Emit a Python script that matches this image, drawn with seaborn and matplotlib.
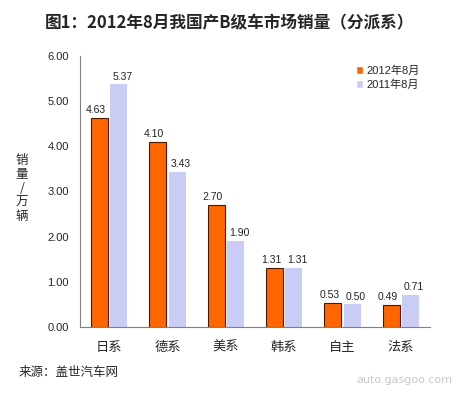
import pandas as pd
import matplotlib.pyplot as plt
import seaborn as sns

# chart data
categories = ["日系", "德系", "美系", "韩系", "自主", "法系"]
sales_2012 = [4.63, 4.10, 2.70, 1.31, 0.53, 0.49]
sales_2011 = [5.37, 3.43, 1.90, 1.31, 0.50, 0.71]
series_names = ["2012年8月", "2011年8月"]
y_ticks = [0, 1, 2, 3, 4, 5, 6]

sns.set_style("white")
plt.rcParams['font.family'] = ['Noto Sans CJK SC', 'DejaVu Sans']

df = pd.DataFrame({
    "category": categories * 2,
    "sales": sales_2012 + sales_2011,
    "series": [series_names[0]] * len(categories) + [series_names[1]] * len(categories),
})

fig = plt.figure(figsize=(4.59, 3.93), dpi=100)
ax = fig.add_axes([0.174, 0.168, 0.763, 0.69])

palette = {series_names[0]: "#FF6600", series_names[1]: "#C9CCF4"}
sns.barplot(data=df, x="category", y="sales", hue="series", palette=palette,
            width=0.62, saturation=1, ax=ax)

# small gap between the paired bars, edge only on orange
gap = 0.02
for bar in ax.containers[0]:
    bar.set_width(bar.get_width() - gap)
    bar.set_edgecolor("#4a1a00")
    bar.set_linewidth(0.8)
for bar in ax.containers[1]:
    bar.set_x(bar.get_x() + gap)
    bar.set_width(bar.get_width() - gap)
    bar.set_edgecolor("none")

# value labels, nudged apart a little so paired labels don't collide
for cont, dx in zip(ax.containers, [-2.5, 2.5]):
    labels = ax.bar_label(cont, fmt="%.2f", padding=2, fontsize=7.5, color="#222222",
                          family=['Liberation Sans', 'DejaVu Sans'])
    for t in labels:
        t.xyann = (dx, 2)

ax.set_ylim(0, 6)
ax.set_yticks(y_ticks)
ax.set_yticklabels([f"{v:.2f}" for v in y_ticks], fontsize=8,
                   family=['Liberation Sans', 'DejaVu Sans'])
ax.tick_params(axis='y', direction='out', length=4, width=0.8, color="#808080", pad=4)
ax.tick_params(axis='x', length=0, labelsize=9.5, pad=10)
ax.set_xlabel("")
ax.set_ylabel("")
for s in ["top", "right"]:
    ax.spines[s].set_visible(False)
for s in ["left", "bottom"]:
    ax.spines[s].set_color("#808080")
    ax.spines[s].set_linewidth(0.8)

leg = ax.legend(loc="upper right", bbox_to_anchor=(1.0, 1.0), frameon=False,
                fontsize=8, handlelength=0.7, handleheight=0.7, handletextpad=0.3,
                labelspacing=0.3)
for t in leg.get_texts():
    t.set_family(['Liberation Sans', 'Noto Sans CJK SC'])

fig.text(0.5, 0.94, "图1：2012年8月我国产B级车市场销量（分派系）", ha="center", va="center",
         fontsize=12, fontweight="bold")
fig.text(0.048, 0.52, "销\n量\n/\n万\n辆", ha="center", va="center", fontsize=9,
         linespacing=1.1)
fig.text(0.04, 0.053, "来源：盖世汽车网", ha="left", va="center", fontsize=9)
fig.text(0.985, 0.02, "auto.gasgoo.com", ha="right", va="bottom", fontsize=8,
         color="#c8c8c8", family=['DejaVu Sans'])

fig.savefig("out.png", dpi=100, facecolor="white")
